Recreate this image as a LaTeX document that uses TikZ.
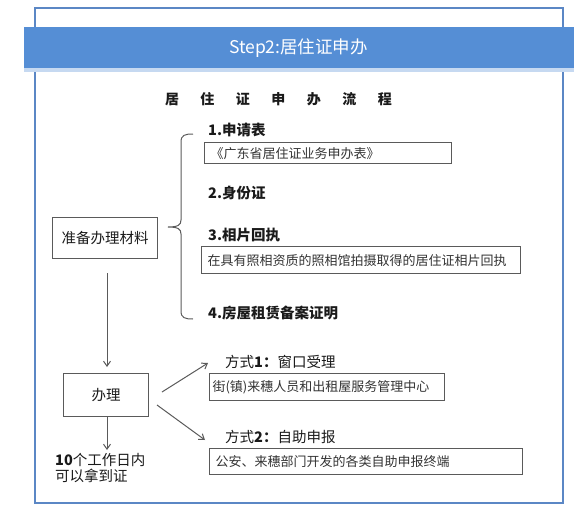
\documentclass[tikz,border=0pt]{standalone}
\usepackage{fontspec}
\setmainfont{Noto Sans CJK SC}
\newfontfamily\latinfont{Liberation Sans}
\usetikzlibrary{arrows.meta}
\definecolor{framecol}{HTML}{5B87C5}
\definecolor{bannercol}{HTML}{558ED5}
\definecolor{stripcol}{HTML}{C6D9F1}
\definecolor{linecol}{HTML}{5A5A5A}
\definecolor{txtcol}{HTML}{333333}
\definecolor{labcol}{HTML}{1A1A1A}
\begin{document}
\begin{tikzpicture}[x=1pt,y=-1pt,
  boxnode/.style={draw=linecol, line width=1.2pt, inner ysep=0pt, text=txtcol,
    font=\fontsize{13}{15}\selectfont, anchor=north west, align=left},
  mainbox/.style={draw=linecol, line width=1.2pt, inner sep=0pt, text=labcol,
    font=\fontsize{14.5}{17}\selectfont, anchor=north west, align=center},
  lab/.style={anchor=west, inner sep=0pt, text=labcol, font=\fontsize{14.5}{17}\selectfont},
  arr/.style={draw=linecol, line width=1pt, -{Straight Barb[length=5pt,width=7pt]}}
]
\useasboundingbox (0,0) rectangle (582,522);
% outer frame
\draw[framecol, line width=2.4pt] (35,8) rectangle (563,503);
% banner
\fill[bannercol] (24,27) rectangle (574,68);
\fill[stripcol] (24,68) rectangle (574,72);
\node[text=white, font=\fontsize{17.5}{20}\selectfont, inner sep=0pt] (banner) at (298.5,48.5) {Step2:居住证申办};
% title
\node[inner sep=0pt, text=labcol, font=\fontsize{14}{16}\selectfont\bfseries] (title) at (278.5,99)
  {\makebox[227pt][s]{居\hfill 住\hfill 证\hfill 申\hfill 办\hfill 流\hfill 程}};

% left boxes
\node[mainbox, minimum width=105pt, minimum height=41pt] (prep) at (52,217) {准备办理材料};
\node[mainbox, minimum width=85pt, minimum height=43pt] (handle) at (63,373) {办理};

% brace
\coordinate (bt) at (193,134);
\coordinate (bm) at (168,227);
\coordinate (bb) at (193,319);
\draw[linecol, line width=1pt] (bt) .. controls (185,134) and (181,135) .. (181,142) -- (181,220)
  .. controls (181,225) and (178,227) .. (bm)
  .. controls (178,227) and (181,229) .. (181,234) -- (181,311)
  .. controls (181,318) and (185,319) .. (bb);

% material labels and boxes
\node[lab] (l1) at (208,130) {\textbf{1.申请表}};
\node[boxnode, text width=235pt, inner xsep=6pt, minimum height=21pt] (b1) at (204,142)
  {《广东省居住证业务申办表》};
\node[lab] (l2) at (208,193) {\textbf{2.身份证}};
\node[lab] (l3) at (208,235) {\textbf{3.相片回执}};
\node[boxnode, text width=307pt, inner xsep=6pt, minimum height=27pt] (b3) at (201,246)
  {在具有照相资质的照相馆拍摄取得的居住证相片回执};
\node[lab] (l4) at (208,313) {\textbf{4.房屋租赁备案证明}};

% ways
\node[lab] (w1) at (225,362) {方式\textbf{1：}窗口受理};
\node[boxnode, text width=229pt, inner xsep=3pt, minimum height=27pt] (bw1) at (209,373)
  {街(镇)来穗人员和出租屋服务管理中心};
\node[lab] (w2) at (225,437) {方式\textbf{2：}自助申报};
\node[boxnode, text width=301pt, inner xsep=6pt, minimum height=26pt] (bw2) at (209,448)
  {公安、来穗部门开发的各类自助申报终端};

% result
\node[lab, anchor=north west, align=left, font=\fontsize{14.5}{16}\selectfont] (res) at (55,453)
  {\textbf{10}个工作日内\\可以拿到证};

% arrows
\coordinate (a0s) at (107,273);
\coordinate (a0e) at (107,367);
\draw[arr] (a0s) -- (a0e);
\coordinate (a3s) at (107,416);
\coordinate (a3e) at (107,450);
\draw[arr] (a3s) -- (a3e);
\coordinate (a1s) at (162,392);
\coordinate (a1e) at (208,363);
\draw[arr] (a1s) -- (a1e);
\coordinate (a2s) at (157,405);
\coordinate (a2e) at (205,440);
\draw[arr] (a2s) -- (a2e);
\end{tikzpicture}
\end{document}
